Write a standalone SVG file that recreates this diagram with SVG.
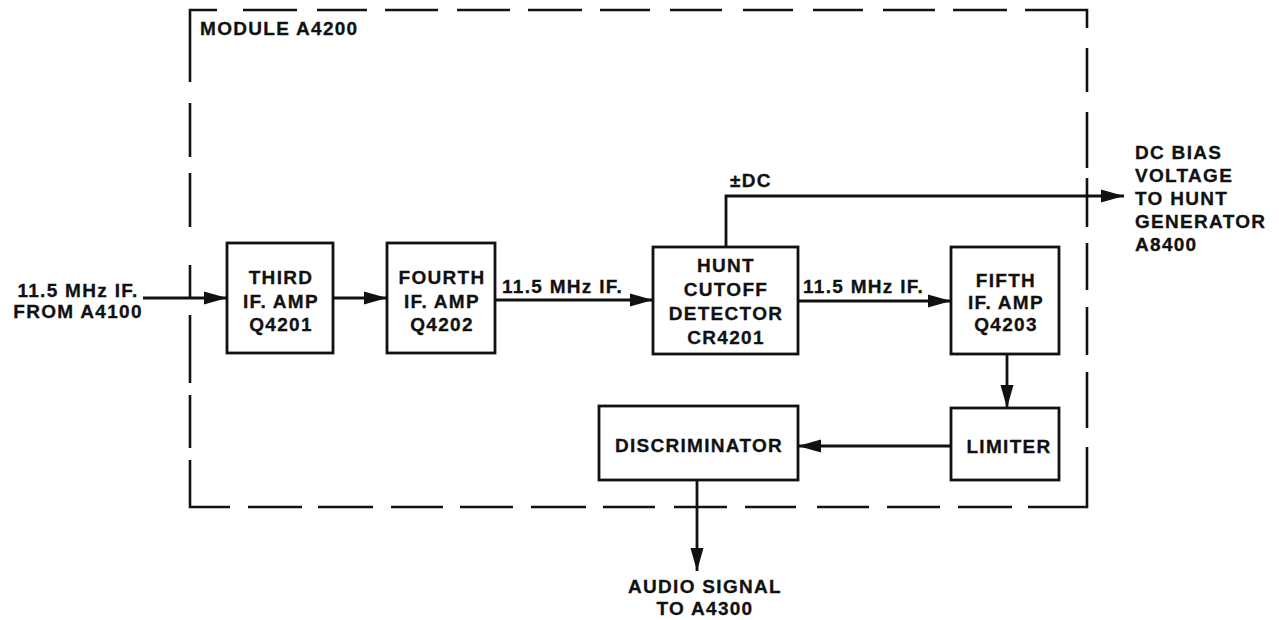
<svg xmlns="http://www.w3.org/2000/svg" width="1279" height="620" viewBox="0 0 1279 620">
<style>
text{font-family:"Liberation Sans",Arial,sans-serif;font-weight:bold;font-size:19px;letter-spacing:1.3px;fill:#111;stroke:#111;stroke-width:0.3}
.c{text-anchor:middle}
.box{fill:#fff;stroke:#111;stroke-width:2.8}
.wire{fill:none;stroke:#111;stroke-width:2.8}
.dash{fill:none;stroke:#111;stroke-width:2.6}
</style>
<defs>
<marker id="ah" markerUnits="userSpaceOnUse" markerWidth="26" markerHeight="16" refX="23" refY="8" orient="auto">
<path d="M0,1.5 L23,8 L0,14.5 Z" fill="#111"/>
</marker>
</defs>
<rect width="1279" height="620" fill="#fff"/>
<g id="module-border">
<path class="dash" d="M190,82 V10 H217 M243,10 H297 M317,10 H367 M385,10 H438 M457,10 H510 M528,10 H582 M600,10 H650 M670,10 H722 M743,10 H793 M813,10 H863 M883,10 H935 M953,10 H1007 M1025,10 H1087 V28 M1087,48 V92 M1087,112 V168 M1087,178 V227 M1087,243 V290 M1087,307 V355 M1087,372 V428 M1087,447 V507 H1028 M1012,507 H958 M940,507 H887 M869,507 H817 M796,507 H745 M727,507 H674 M655,507 H603 M586,507 H531 M513,507 H460 M443,507 H391 M373,507 H318 M302,507 H248 M230,507 H190 V460 M190,448 V395 M190,383 V315 M190,298 V265 M190,227 V173 M190,157 V103"/>
<text x="200" y="35">MODULE A4200</text>
</g>
<g id="connectors">
<line class="wire" x1="143" y1="298" x2="227" y2="298" marker-end="url(#ah)"/>
<line class="wire" x1="333" y1="298" x2="387" y2="298" marker-end="url(#ah)"/>
<line class="wire" x1="495" y1="300" x2="653" y2="300" marker-end="url(#ah)"/>
<line class="wire" x1="798" y1="301" x2="951" y2="301" marker-end="url(#ah)"/>
<polyline class="wire" points="726,247 726,196 1124,196" marker-end="url(#ah)"/>
<line class="wire" x1="1007" y1="354" x2="1007" y2="408" marker-end="url(#ah)"/>
<line class="wire" x1="951" y1="446" x2="798" y2="446" marker-end="url(#ah)"/>
<line class="wire" x1="697" y1="480" x2="697" y2="571" marker-end="url(#ah)"/>
<text x="502" y="293">11.5 MHz IF.</text>
<text x="803" y="293">11.5 MHz IF.</text>
<text x="730" y="187">±DC</text>
</g>
<g id="input-label">
<text class="c" x="78" y="297">11.5 MHz IF.</text>
<text class="c" x="78" y="318">FROM A4100</text>
</g>
<g id="third-if-amp">
<rect class="box" x="227" y="243" width="106" height="110"/>
<text class="c" x="281" y="284">THIRD</text>
<text class="c" x="281" y="308">IF. AMP</text>
<text class="c" x="281" y="331">Q4201</text>
</g>
<g id="fourth-if-amp">
<rect class="box" x="387" y="243" width="108" height="110"/>
<text class="c" x="442" y="284">FOURTH</text>
<text class="c" x="442" y="308">IF. AMP</text>
<text class="c" x="442" y="331">Q4202</text>
</g>
<g id="hunt-cutoff-detector">
<rect class="box" x="653" y="247" width="145" height="107"/>
<text class="c" x="726" y="272">HUNT</text>
<text class="c" x="726" y="296">CUTOFF</text>
<text class="c" x="726" y="320">DETECTOR</text>
<text class="c" x="726" y="344">CR4201</text>
</g>
<g id="fifth-if-amp">
<rect class="box" x="951" y="247" width="108" height="107"/>
<text class="c" x="1006" y="287">FIFTH</text>
<text class="c" x="1006" y="309">IF. AMP</text>
<text class="c" x="1006" y="331">Q4203</text>
</g>
<g id="limiter">
<rect class="box" x="951" y="408" width="108" height="72"/>
<text class="c" x="1009" y="453">LIMITER</text>
</g>
<g id="discriminator">
<rect class="box" x="599" y="406" width="199" height="74"/>
<text class="c" x="699" y="452">DISCRIMINATOR</text>
</g>
<g id="dc-bias-label">
<text x="1135" y="159">DC BIAS</text>
<text x="1135" y="182">VOLTAGE</text>
<text x="1135" y="205">TO HUNT</text>
<text x="1135" y="228">GENERATOR</text>
<text x="1135" y="251">A8400</text>
</g>
<g id="audio-label">
<text class="c" x="705" y="593">AUDIO SIGNAL</text>
<text class="c" x="705" y="615">TO A4300</text>
</g>
</svg>
